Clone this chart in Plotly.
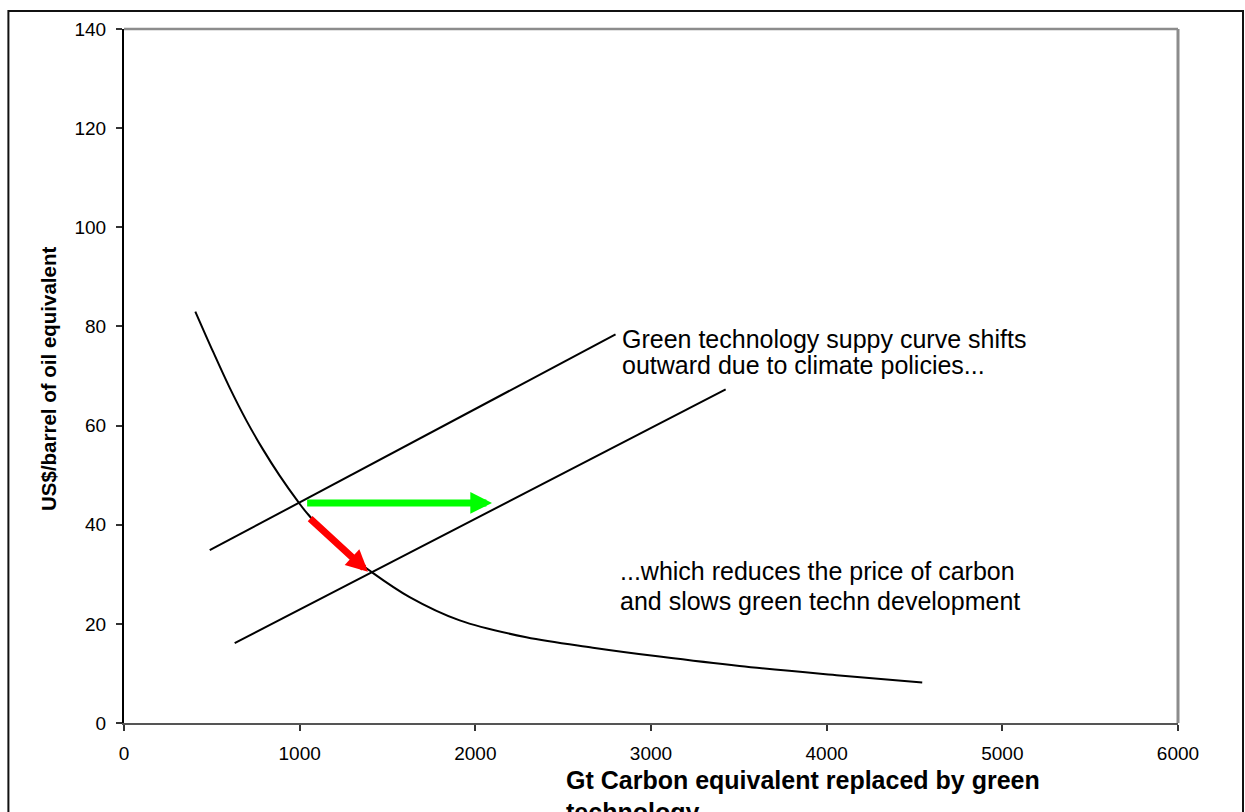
import plotly.graph_objects as go

# ---- data ----
demand_x = [406, 507, 602, 697, 791, 886, 994, 1038, 1200, 1408, 1626, 1911, 2290, 2669, 3049, 3504, 4073, 4544]
demand_y = [83.0, 74.9, 67.6, 61.0, 55.2, 49.9, 44.5, 42.5, 36.2, 30.5, 25.4, 20.7, 17.3, 15.2, 13.4, 11.5, 9.6, 8.15]

supply_old_x = [488, 2798]
supply_old_y = [34.85, 78.4]
supply_new_x = [630, 3425]
supply_new_y = [16.1, 67.3]

green_arrow_from = (1034, 44.4)
green_arrow_to = (2095, 44.4)
red_arrow_from = (1051, 41.5)
red_arrow_to = (1389, 30.5)

x_ticks = [0, 1000, 2000, 3000, 4000, 5000, 6000]
y_ticks = [0, 20, 40, 60, 80, 100, 120, 140]

x_title_lines = ["Gt Carbon equivalent replaced by green", "technology"]
y_title = "US$/barrel of oil equivalent"
note_top = ["Green technology suppy curve shifts", "outward due to climate policies..."]
note_bottom = ["...which reduces the price of carbon", "and slows green techn development"]

W, H = 1245, 812
L, R, T, B = 124.3, 1178.3, 28.7, 722.7
pw, ph = R - L, B - T

def px(x):
    return (x - L) / pw

def py(y):
    return (B - y) / ph

SANS = "Liberation Sans, Arial, sans-serif"

fig = go.Figure()
line_style = dict(color="black", width=2)
fig.add_trace(go.Scatter(x=demand_x, y=demand_y, mode="lines",
                         line=dict(color="black", width=2, shape="spline", smoothing=1.0),
                         hoverinfo="skip", showlegend=False))
fig.add_trace(go.Scatter(x=supply_old_x, y=supply_old_y, mode="lines", line=line_style,
                         hoverinfo="skip", showlegend=False))
fig.add_trace(go.Scatter(x=supply_new_x, y=supply_new_y, mode="lines", line=line_style,
                         hoverinfo="skip", showlegend=False))

annotations = []
for (a0, a1, col) in [(green_arrow_from, green_arrow_to, "#00ff00"),
                      (red_arrow_from, red_arrow_to, "#ff0000")]:
    annotations.append(dict(x=a1[0], y=a1[1], ax=a0[0], ay=a0[1], xref="x", yref="y",
                            axref="x", ayref="y", text="", showarrow=True,
                            arrowhead=2, arrowwidth=7, arrowsize=0.62, arrowcolor=col,
                            standoff=0))

note_font = dict(family=SANS, size=25, color="black")
for txt, yy in zip(note_top, [339, 365]):
    annotations.append(dict(x=px(620), y=py(yy), xref="paper", yref="paper", text=txt,
                            showarrow=False, xanchor="left", yanchor="middle", font=note_font))
for txt, yy in zip(note_bottom, [571, 600.5]):
    annotations.append(dict(x=px(618), y=py(yy), xref="paper", yref="paper", text=txt,
                            showarrow=False, xanchor="left", yanchor="middle", font=note_font))

title_font = dict(family=SANS, size=25, color="black", weight="bold")
for txt, yy in zip(x_title_lines, [779.5, 812]):
    annotations.append(dict(x=px(564), y=py(yy), xref="paper", yref="paper", text=txt,
                            showarrow=False, xanchor="left", yanchor="middle", font=title_font))

annotations.append(dict(x=px(49), y=py(379), xref="paper", yref="paper", text=y_title,
                        showarrow=False, textangle=-90, xanchor="center", yanchor="middle",
                        font=dict(family=SANS, size=20.5, color="black", weight="bold")))

shapes = [
    # outer chart border
    dict(type="rect", xref="paper", yref="paper", x0=px(8.7), x1=px(1243.3), y0=py(860), y1=py(10.7),
         line=dict(color="#111111", width=2), fillcolor="rgba(0,0,0,0)", layer="above"),
    # gray top and right plot-area border
    dict(type="line", xref="paper", yref="paper", x0=0, x1=1, y0=1, y1=1,
         line=dict(color="#8c8c8c", width=2.5)),
    dict(type="line", xref="paper", yref="paper", x0=1, x1=1, y0=0, y1=1,
         line=dict(color="#8c8c8c", width=3)),
]

fig.update_layout(
    width=W, height=H,
    margin=dict(l=L, r=W - R, t=T, b=H - B, pad=0),
    paper_bgcolor="white", plot_bgcolor="white",
    showlegend=False,
    annotations=annotations, shapes=shapes,
    xaxis=dict(range=[0, 6000], tickvals=x_ticks, ticktext=[str(v) for v in x_ticks],
               showgrid=False, zeroline=False, showline=True, linecolor="#555555", linewidth=2,
               ticks="outside", ticklen=6, tickwidth=1.5, tickcolor="#333333",
               tickfont=dict(family=SANS, size=19, color="black"), ticklabelstandoff=6),
    yaxis=dict(range=[0, 140], tickvals=y_ticks, ticktext=[str(v) for v in y_ticks],
               showgrid=False, zeroline=False, showline=True, linecolor="black", linewidth=2,
               ticks="outside", ticklen=6, tickwidth=1.5, tickcolor="#333333",
               tickfont=dict(family=SANS, size=19, color="black"), ticklabelstandoff=6),
)

fig.write_html("out.html", config={"displayModeBar": False},
               post_script="document.body.style.margin='0';document.body.style.overflow='hidden';")
